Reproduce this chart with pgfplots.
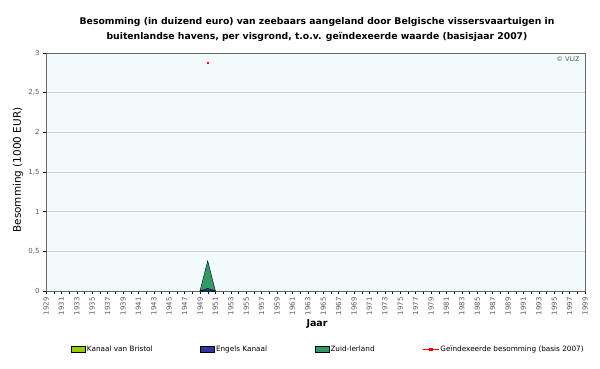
\documentclass[border=0pt]{standalone}
\usepackage{fontspec}
\setmainfont{DejaVu Sans}
\usepackage{pgfplots}
\pgfplotsset{compat=1.18}
\definecolor{bristol}{HTML}{99CC00}
\definecolor{engels}{HTML}{333399}
\definecolor{zuid}{HTML}{339966}
\definecolor{plotbg}{HTML}{F2FCFC}
\pgfplotsset{
  boxlegend/.style={legend image code/.code={\draw[##1, draw=black, thin] (0bp,-3bp) rectangle (14bp,3bp);}},
  linelegend/.style={legend image code/.code={\draw[red, line width=0.8bp] (0bp,0bp) -- (16bp,0bp); \fill[red] (6.5bp,-1.2bp) rectangle (9.5bp,1.2bp);}},
}
\begin{document}
\begin{tikzpicture}[x=1bp,y=1bp]
\useasboundingbox (0,0) rectangle (600,368);
\node[font=\bfseries\fontsize{9.3}{15}\selectfont, align=center] at (317,338.5) {Besomming (in duizend euro) van zeebaars aangeland door Belgische vissersvaartuigen in\\buitenlandse havens, per visgrond, t.o.v. geïndexeerde waarde (basisjaar 2007)};
\begin{axis}[
  at={(46bp,77bp)}, anchor=south west, scale only axis,
  width=539bp, height=238bp,
  xmin=1929, xmax=1999, ymin=0, ymax=3,
  axis background/.style={fill=plotbg},
  axis line style={gray!60},
  x axis line style={black},
  y axis line style={gray!80!black},
  xtick pos=bottom, ytick pos=left,
  xtick={1929,1931,...,1999},
  minor xtick={1930,1932,...,1998},
  ytick={0,0.5,...,3},
  yticklabels={0,{0,5},1,{1,5},2,{2,5},3},
  xticklabel style={rotate=90, anchor=east, font=\fontsize{7}{7}\selectfont, text=gray!70!black},
  yticklabel style={font=\fontsize{7}{7}\selectfont, text=gray!70!black},
  /pgf/number format/assume math mode=true,
  /pgf/number format/1000 sep={},
  scaled ticks=false,
  tick align=outside,
  major tick length=3bp, minor tick length=3bp,
  tick style={black, thin},
  ymajorgrids, major grid style={gray!35, thin},
  stack plots=y,
  legend columns=4,
  legend style={at={(0.046,-0.244)}, anchor=west, draw=none, fill=none, inner sep=0pt,
    font=\fontsize{7.3}{8}\selectfont, /tikz/every even column/.append style={column sep=46bp},
    nodes={inner sep=1.5bp}},
  legend cell align=left,
]
\addplot[fill=bristol, draw=black, thin, boxlegend] coordinates {(1949,0) (1950,0) (1951,0)} \closedcycle;
\addlegendentry{Kanaal van Bristol}
\addplot[fill=engels, draw=black, thin, boxlegend] coordinates {(1949,0) (1950,0.03) (1951,0)} \closedcycle;
\addlegendentry{Engels Kanaal}
\addplot[fill=zuid, draw=black, thin, boxlegend] coordinates {(1949,0) (1950,0.35) (1951,0)} \closedcycle;
\addlegendentry{Zuid-Ierland}
\addplot[stack plots=false, red, thin, mark=square*, mark size=0.8bp, linelegend] coordinates {(1950,2.88)};
\addlegendentry{Geïndexeerde besomming (basis 2007)}
\end{axis}
\node[font=\fontsize{6.5}{7}\selectfont, text=gray!70!black] at (568,309) {© VLIZ};
\node[font=\fontsize{10.5}{12}\selectfont, rotate=90] at (18,198) {Besomming (1000 EUR)};
\node[font=\bfseries\fontsize{9.5}{10}\selectfont] at (317,44) {Jaar};
\end{tikzpicture}
\end{document}
